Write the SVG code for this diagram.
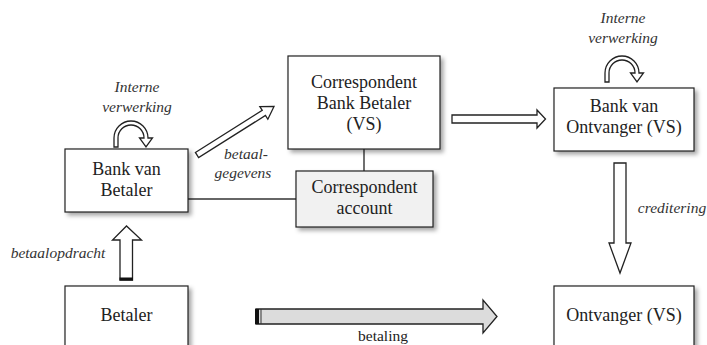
<svg xmlns="http://www.w3.org/2000/svg" width="707" height="345" viewBox="0 0 707 345">
<style>
.box{fill:#ffffff;stroke:#222222;stroke-width:1.2;filter:url(#sh)}
.gbox{fill:#f1f1f1;stroke:#222222;stroke-width:1.2;filter:url(#sh)}
.t{font-family:"Liberation Serif","Times New Roman",serif;font-size:18px;fill:#222222;text-anchor:middle}
.i{font-family:"Liberation Serif","Times New Roman",serif;font-size:15.5px;font-style:italic;fill:#333333;text-anchor:middle}
.arr{fill:#ffffff;stroke:#222222;stroke-width:1.3;stroke-linejoin:miter}
.ln{stroke:#333333;stroke-width:1.4;fill:none}
</style>
<defs>
<filter id="sh" x="-20%" y="-20%" width="150%" height="160%">
<feGaussianBlur in="SourceAlpha" stdDeviation="2.2"/>
<feOffset dx="3" dy="3" result="b"/>
<feFlood flood-color="#000000" flood-opacity="0.35"/>
<feComposite in2="b" operator="in"/>
<feMerge><feMergeNode/><feMergeNode in="SourceGraphic"/></feMerge>
</filter>
<path id="uturn" d="M0,27 L0,18 A17,17 0 0 1 34,18 L38.5,18 L32,27 L25.5,18 L30,18 A13,13 0 0 0 4,18 L4,27 Z"/>
</defs>

<g id="connectors">
<line class="ln" x1="188" y1="199" x2="296" y2="199"/>
<line class="ln" x1="364" y1="149" x2="364" y2="171"/>
<polygon class="arr" transform="translate(197,155) rotate(-32.2)" points="0,-3 79,-3 79,-7.5 91,0 79,7.5 79,3 0,3"/>
<polygon class="arr" points="452,115 537,115 537,110 545.5,119 537,128 537,123 452,123"/>
<polygon class="arr" points="614,163 626,163 626,243 631,243 620,273 609,243 614,243"/>
<polygon class="arr" points="120,280 120,240 112.5,240 126.5,226 141.5,240 132.5,240 132.5,280"/>
<rect x="119.5" y="277.5" width="13.5" height="3" fill="#111111"/>
<polygon points="256,309 483,309 483,300 497,316.5 483,333 483,324 256,324" fill="#dcdcdc" stroke="#222222" stroke-width="1.3"/>
<rect x="255" y="309" width="4" height="15" fill="#111111"/>
<line x1="261" y1="309" x2="261" y2="324" stroke="#333333" stroke-width="1"/>
<use href="#uturn" class="arr" x="114" y="120"/>
<use href="#uturn" class="arr" x="605" y="55"/>
</g>

<g id="labels">
<text class="i" x="137" y="92">Interne</text>
<text class="i" x="137" y="112">verwerking</text>
<text class="i" x="623" y="23">Interne</text>
<text class="i" x="623" y="43">verwerking</text>
<text class="i" x="246" y="159">betaal-</text>
<text class="i" x="243" y="178">gegevens</text>
<text class="i" x="58" y="258">betaalopdracht</text>
<text class="i" x="672" y="213">creditering</text>
<text class="t" x="383" y="341" style="font-size:15.5px">betaling</text>
</g>

<g id="bank-betaler">
<rect class="box" x="65" y="149" width="123" height="63"/>
<text class="t" x="126.5" y="175">Bank van</text>
<text class="t" x="126.5" y="196">Betaler</text>
</g>

<g id="correspondent-bank">
<rect class="box" x="288" y="56" width="152" height="93"/>
<text class="t" x="364" y="87.5">Correspondent</text>
<text class="t" x="364" y="108.5">Bank Betaler</text>
<text class="t" x="364" y="129.5">(VS)</text>
</g>

<g id="correspondent-account">
<rect class="gbox" x="296" y="171" width="137" height="56"/>
<text class="t" x="364.5" y="193">Correspondent</text>
<text class="t" x="364.5" y="214">account</text>
</g>

<g id="bank-ontvanger">
<rect class="box" x="554" y="88" width="140" height="63"/>
<text class="t" x="624" y="112">Bank van</text>
<text class="t" x="624" y="133">Ontvanger (VS)</text>
</g>

<g id="betaler">
<rect class="box" x="65" y="286" width="123" height="80"/>
<text class="t" x="126.5" y="321">Betaler</text>
</g>

<g id="ontvanger">
<rect class="box" x="554" y="286" width="140" height="80"/>
<text class="t" x="624" y="321">Ontvanger (VS)</text>
</g>
</svg>
